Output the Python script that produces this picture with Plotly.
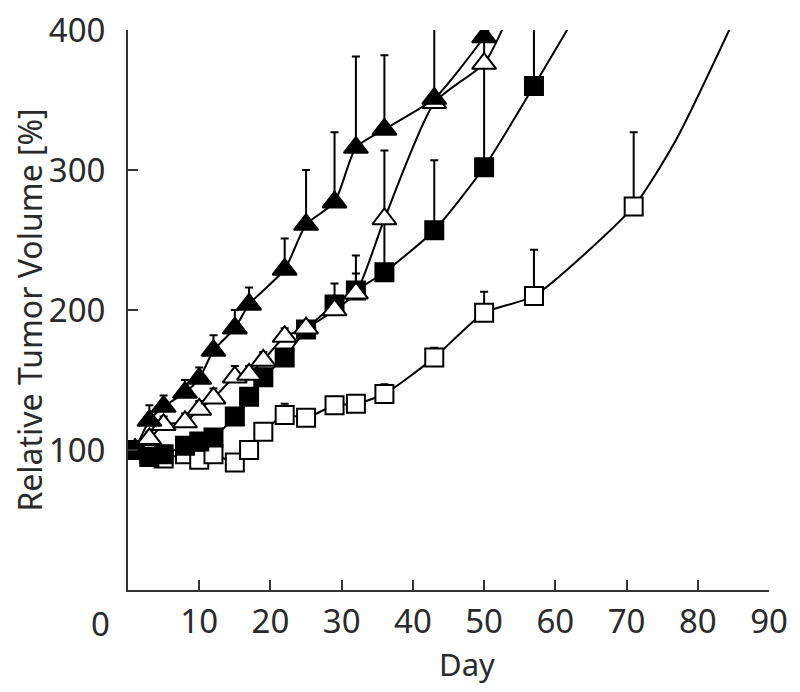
import plotly.graph_objects as go

# ---- data ----
# filled triangles
tri_f_days = [1, 3, 5, 8, 10, 12, 15, 17, 22, 25, 29, 32, 36, 43, 50]
tri_f_vals = [100, 121, 131, 141, 151, 171, 187, 204, 229, 261, 277, 316, 329, 351, 395]
tri_f_err = [0, 11, 8, 9, 8, 11, 13, 12, 22, 39, 50, 65, 53, 60, 40]
tri_f_ext_days = [51]
tri_f_ext_vals = [403]

# open triangles
tri_o_days = [1, 3, 5, 8, 10, 12, 15, 17, 19, 22, 25, 29, 32, 36, 43, 50]
tri_o_vals = [100, 108, 118, 120, 129, 137, 152, 154, 164, 181, 187, 200, 212, 265, 348, 376]
tri_o_err = [0, 5, 6, 6, 6, 7, 8, 6, 6, 6, 5, 8, 27, 49, 0, 0]
tri_o_ext_days = [52.7]
tri_o_ext_vals = [402]

# filled squares
sq_f_days = [1, 3, 5, 8, 10, 12, 15, 17, 19, 22, 25, 29, 32, 36, 43, 50, 57]
sq_f_vals = [100, 95, 97, 103, 106, 109, 124, 138, 152, 166, 186, 204, 214, 227, 257, 302, 360]
sq_f_err = [0, 5, 5, 5, 5, 6, 6, 6, 6, 5, 5, 15, 12, 38, 50, 100, 60]
sq_f_ext_days = [62]
sq_f_ext_vals = [403]

# open squares
sq_o_days = [1, 3, 5, 8, 10, 12, 15, 17, 19, 22, 25, 29, 32, 36, 43, 50, 57, 71]
sq_o_vals = [100, 97, 94, 97, 93, 97, 91, 100, 113, 125, 123, 132, 133, 140, 166, 198, 210, 274]
sq_o_err = [0, 3, 3, 3, 4, 3, 3, 4, 4, 8, 4, 6, 4, 7, 7, 15, 33, 53]
sq_o_ext_days = [77, 84.6]
sq_o_ext_vals = [322, 402]

x_ticks = [10, 20, 30, 40, 50, 60, 70, 80, 90]
y_ticks = [100, 200, 300, 400]

FONT = "Noto Sans"
TXT = "#2a2a2a"
PLOT_W = 641

fig = go.Figure()

series = [
    (sq_o_days, sq_o_vals, sq_o_err, sq_o_ext_days, sq_o_ext_vals, "square", "white"),
    (sq_f_days, sq_f_vals, sq_f_err, sq_f_ext_days, sq_f_ext_vals, "square", "black"),
    (tri_o_days, tri_o_vals, tri_o_err, tri_o_ext_days, tri_o_ext_vals, "triangle-up", "white"),
    (tri_f_days, tri_f_vals, tri_f_err, tri_f_ext_days, tri_f_ext_vals, "triangle-up", "black"),
]

for days, vals, err, edays, evals, sym, fill in series:
    fig.add_trace(go.Scatter(
        x=days + edays, y=vals + evals, mode="lines",
        line=dict(color="black", width=2, shape="spline", smoothing=0.6),
        showlegend=False, hoverinfo="skip"))
    size = 18 if sym == "square" else 21
    fig.add_trace(go.Scatter(
        x=days, y=vals, mode="markers",
        marker=dict(symbol=sym, size=size, color=fill,
                    line=dict(color="black", width=2)),
        error_y=dict(type="data", symmetric=False, array=err,
                     arrayminus=[0] * len(err), color="black",
                     thickness=2, width=4),
        showlegend=False, cliponaxis=True))

fig.update_layout(
    width=800, height=692,
    margin=dict(l=120, r=39, t=22, b=110),
    paper_bgcolor="white", plot_bgcolor="white",
    font=dict(family=FONT, size=34, color=TXT),
    xaxis=dict(range=[0, 90], tickvals=x_ticks, ticks="inside", ticklen=10,
               tickwidth=2, tickcolor="#333", showline=True, linewidth=2,
               linecolor="#333", showgrid=False, zeroline=False,
               automargin=False,
               ticklabelstandoff=1, ticklabeloverflow="allow",
               tickfont=dict(size=33, color=TXT)),
    yaxis=dict(range=[0, 400], tickvals=y_ticks, ticks="inside", ticklen=10,
               tickwidth=2, tickcolor="#333", showline=True, linewidth=2,
               linecolor="#333", showgrid=False, zeroline=False,
               automargin=False,
               ticklabelstandoff=14, ticklabeloverflow="allow",
               tickfont=dict(size=33, color=TXT),
               title=dict(text="Relative Tumor Volume [%]",
                          font=dict(size=32, color=TXT), standoff=11)),
    annotations=[
        dict(text="0", xref="paper", yref="paper",
             x=-28 / PLOT_W, y=0, yshift=-33, yanchor="middle",
             xanchor="center", showarrow=False,
             font=dict(size=33, color=TXT)),
        dict(text="Day", xref="paper", yref="paper",
             x=(467 - 128) / PLOT_W, y=0, yshift=-74, yanchor="middle",
             xanchor="center", showarrow=False,
             font=dict(size=31, color=TXT)),
    ],
)

fig.write_html("out.html")
